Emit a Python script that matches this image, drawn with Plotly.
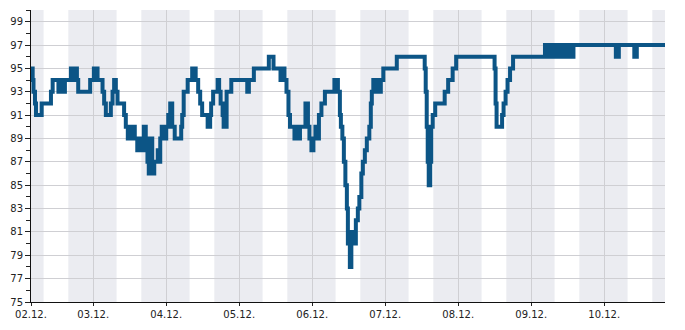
import pandas as pd
import plotly.graph_objects as go

# hours since 02.12. 00:00 and humidity values (%), step data
hours = [3.56, 4.11, 4.38, 4.87, 5.20, 7.07, 10.12, 10.68, 12.58, 13.24, 14.06, 14.71,
         16.68, 17.34, 17.67, 18.65, 19.08, 23.01, 24.23, 25.44, 27.08, 27.61, 28.17,
         29.81, 30.37, 30.89, 31.45, 32.01, 34.17, 34.73, 35.39, 36.04, 36.70, 37.19,
         37.68, 38.50, 39.65, 40.14, 40.64, 41.29, 41.62, 41.85, 42.28, 42.93, 43.42,
         44.08, 45.23, 45.72, 46.05, 46.54, 47.53, 48.02, 48.68, 49.33, 49.99, 50.81,
         52.94, 53.27, 53.76, 55.07, 56.55, 57.70, 58.52, 59.18, 59.83, 61.64, 62.46,
         62.79, 63.44, 64.92, 65.41, 65.90, 66.56, 66.89, 67.87, 69.41, 74.66, 75.19,
         76.83, 81.75, 83.29, 85.59, 86.25, 86.90, 87.56, 88.21, 88.71, 90.18, 90.84,
         91.50, 91.99, 93.79, 94.61, 95.10, 95.76, 96.41, 97.07, 97.72, 98.22, 99.04,
         100.19, 103.31, 104.46, 105.11, 105.44, 105.93, 106.42, 106.92, 107.41, 107.74,
         108.06, 108.39, 108.88, 109.38, 109.87, 110.36, 111.02, 111.51, 112.17, 112.66,
         113.32, 113.97, 114.79, 115.28, 115.61, 116.10, 116.76, 117.42, 118.07, 118.57,
         119.39, 123.82, 133.00, 133.33, 133.66, 133.99, 134.32, 134.81, 135.14, 135.63,
         136.45, 139.57, 140.71, 142.19, 143.34, 155.97, 156.30, 156.63, 158.44, 158.93,
         159.59, 160.24, 161.06, 162.05,
         172.54, 173.20, 174.18, 174.84, 175.82, 176.48, 177.46, 178.12, 179.10, 179.76,
         180.41, 181.07, 181.90,
         195.84, 196.82, 201.91, 202.73, 212.00]
values = [95, 94, 93, 92, 91, 92, 93, 94, 93, 94, 93, 94,
          95, 94, 95, 94, 93, 94, 95, 94, 93, 92, 91,
          92, 93, 94, 93, 92, 91, 90, 89, 90, 89, 90,
          89, 88, 89, 88, 90, 89, 88, 87, 86, 89, 86,
          87, 88, 87, 89, 90, 89, 90, 91, 92, 90, 89,
          90, 91, 93, 94, 95, 94, 93, 92, 91, 90, 91,
          92, 93, 94, 93, 92, 91, 90, 93, 94, 93, 94,
          95, 96, 95, 94, 95, 94, 93, 91, 90, 89, 90,
          89, 90, 92, 90, 89, 88, 89, 90, 89, 91, 92,
          93, 94, 93, 91, 90, 89, 87, 85, 83, 80,
          81, 78, 80, 81, 80, 82, 83, 84, 86, 87,
          88, 89, 90, 92, 93, 94, 93, 94, 93, 94,
          95, 96, 95, 93, 90, 87, 85, 87, 90, 91,
          92, 93, 94, 95, 96, 95, 92, 90, 91, 92,
          93, 94, 95, 96,
          97, 96, 97, 96, 97, 96, 97, 96, 97, 96,
          97, 96, 97,
          96, 97, 96, 97, 97]

base = pd.Timestamp("2023-12-02 00:00")
times = base + pd.to_timedelta(hours, unit="h")

day_ticks = ["2023-12-03", "2023-12-04", "2023-12-05", "2023-12-06",
             "2023-12-07", "2023-12-08", "2023-12-09", "2023-12-10"]
day_labels = ["03.12.", "04.12.", "05.12.", "06.12.", "07.12.", "08.12.", "09.12.", "10.12."]
start_label = "02.12."

# dark periods (hours since 02.12. 00:00)
night_start_h = 15.83
night_end_h = 7.7

y_tick_vals = list(range(75, 100, 2))

fig = go.Figure()
fig.add_trace(go.Scatter(x=times, y=values, mode="lines",
                         line=dict(color="#0c5586", width=4, shape="hv"),
                         hoverinfo="skip", showlegend=False))

x0 = times[0]
x1 = times[-1]
shapes = []
shapes.append(dict(type="rect", xref="x", yref="paper", x0=x0, x1=base + pd.Timedelta(hours=night_end_h),
                   y0=0, y1=1, fillcolor="#ebecf1", line_width=0, layer="below"))
for d in range(0, 9):
    s = base + pd.Timedelta(days=d, hours=night_start_h)
    e = base + pd.Timedelta(days=d + 1, hours=night_end_h)
    if s >= x1:
        break
    shapes.append(dict(type="rect", xref="x", yref="paper", x0=s, x1=min(e, x1),
                       y0=0, y1=1, fillcolor="#ebecf1", line_width=0, layer="below"))

fig.update_layout(
    width=685, height=330,
    margin=dict(l=30, r=20, t=10, b=20),
    paper_bgcolor="white", plot_bgcolor="white",
    shapes=shapes,
    font=dict(family="DejaVu Sans", size=10, color="#222"),
    showlegend=False,
)
fig.update_xaxes(
    type="date", range=[x0, x1],
    tickvals=[x0] + [pd.Timestamp(t) for t in day_ticks],
    ticktext=[start_label] + day_labels,
    showgrid=True, gridcolor="#cfcfd3", gridwidth=1,
    ticks="outside", ticklen=3, tickcolor="#222",
    showline=True, linecolor="#111", linewidth=1,
    zeroline=False,
)
fig.update_yaxes(
    range=[75, 100],
    tickvals=y_tick_vals,
    showgrid=True, gridcolor="#cfcfd3", gridwidth=1,
    ticks="outside", ticklen=5, tickcolor="#222",
    minor=dict(dtick=1, tick0=0, ticks="outside", ticklen=4, tickcolor="#222", showgrid=False),
    showline=True, linecolor="#111", linewidth=1,
    zeroline=False,
)

fig.write_html("out.html")
